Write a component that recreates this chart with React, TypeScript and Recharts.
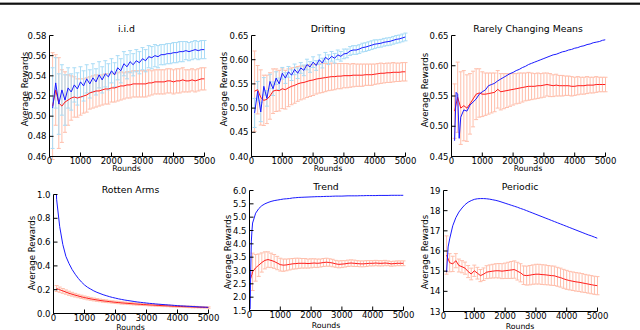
import React from 'react';
import { LineChart, Line, XAxis, YAxis, ErrorBar } from 'recharts';

const ROUNDS = [100, 200, 300, 400, 500, 600, 700, 800, 900, 1000,
  1100, 1200, 1300, 1400, 1500, 1600, 1700, 1800, 1900, 2000,
  2100, 2200, 2300, 2400, 2500, 2600, 2700, 2800, 2900, 3000,
  3100, 3200, 3300, 3400, 3500, 3600, 3700, 3800, 3900, 4000,
  4100, 4200, 4300, 4400, 4500, 4600, 4700, 4800, 4900, 5000];
const X_TICKS = [0, 1000, 2000, 3000, 4000, 5000];

// i.i.d
const IID_BLUE = [0.508, 0.533, 0.512, 0.526, 0.516, 0.528, 0.524, 0.531, 0.527, 0.534,
  0.530, 0.537, 0.532, 0.538, 0.534, 0.541, 0.536, 0.542, 0.539, 0.545,
  0.541, 0.548, 0.545, 0.552, 0.549, 0.554, 0.551, 0.555, 0.553, 0.557,
  0.555, 0.559, 0.558, 0.560, 0.559, 0.561, 0.561, 0.562, 0.562, 0.563,
  0.563, 0.564, 0.564, 0.565, 0.564, 0.565, 0.566, 0.565, 0.566, 0.566];
const IID_RED = [0.510, 0.526, 0.513, 0.510, 0.514, 0.516, 0.518, 0.519, 0.518, 0.519,
  0.520, 0.521, 0.523, 0.524, 0.525, 0.525, 0.526, 0.527, 0.527, 0.528,
  0.528, 0.529, 0.530, 0.530, 0.531, 0.531, 0.532, 0.532, 0.532, 0.532,
  0.532, 0.533, 0.533, 0.534, 0.534, 0.534, 0.534, 0.535, 0.535, 0.534,
  0.535, 0.535, 0.536, 0.535, 0.535, 0.536, 0.535, 0.536, 0.537, 0.537];
const IID_BLUE_ERR = [0.040, 0.025, 0.030, 0.025, 0.025, 0.020, 0.018, 0.017, 0.016, 0.015,
  0.015, 0.014, 0.014, 0.014, 0.013, 0.013, 0.013, 0.013, 0.013, 0.012,
  0.012, 0.012, 0.012, 0.012, 0.012, 0.011, 0.011, 0.011, 0.011, 0.011,
  0.011, 0.011, 0.011, 0.011, 0.011, 0.010, 0.010, 0.010, 0.010, 0.010,
  0.010, 0.010, 0.010, 0.009, 0.009, 0.009, 0.009, 0.009, 0.009, 0.009];
const IID_RED_ERR = [0.053, 0.035, 0.045, 0.036, 0.030, 0.025, 0.022, 0.020, 0.019, 0.018,
  0.017, 0.017, 0.016, 0.016, 0.016, 0.015, 0.015, 0.015, 0.015, 0.014,
  0.014, 0.014, 0.014, 0.013, 0.013, 0.013, 0.013, 0.013, 0.013, 0.013,
  0.013, 0.013, 0.012, 0.012, 0.012, 0.012, 0.012, 0.012, 0.012, 0.012,
  0.012, 0.012, 0.012, 0.011, 0.011, 0.011, 0.011, 0.011, 0.011, 0.011];
const IID_Y_TICKS = [0.46, 0.48, 0.5, 0.52, 0.54, 0.56, 0.58];

// Drifting
const DRIFT_BLUE = [0.490, 0.535, 0.492, 0.545, 0.520, 0.555, 0.540, 0.562, 0.550, 0.572,
  0.562, 0.575, 0.568, 0.580, 0.572, 0.583, 0.578, 0.590, 0.585, 0.595,
  0.588, 0.600, 0.593, 0.605, 0.600, 0.607, 0.603, 0.610, 0.607, 0.612,
  0.613, 0.618, 0.620, 0.620, 0.622, 0.625, 0.626, 0.628, 0.630, 0.632,
  0.633, 0.634, 0.636, 0.637, 0.638, 0.640, 0.642, 0.643, 0.645, 0.647];
const DRIFT_RED = [0.535, 0.538, 0.522, 0.516, 0.518, 0.525, 0.535, 0.537, 0.536, 0.540,
  0.538, 0.542, 0.545, 0.547, 0.550, 0.552, 0.553, 0.555, 0.557, 0.558,
  0.560, 0.561, 0.562, 0.563, 0.564, 0.565, 0.565, 0.566, 0.566, 0.567,
  0.567, 0.567, 0.568, 0.568, 0.568, 0.568, 0.569, 0.569, 0.569, 0.570,
  0.571, 0.572, 0.572, 0.573, 0.573, 0.574, 0.574, 0.574, 0.575, 0.575];
const DRIFT_BLUE_ERR = [0.030, 0.020, 0.020, 0.018, 0.016, 0.015, 0.014, 0.013, 0.012, 0.012,
  0.011, 0.011, 0.011, 0.011, 0.011, 0.011, 0.011, 0.011, 0.011, 0.011,
  0.010, 0.010, 0.010, 0.010, 0.010, 0.010, 0.010, 0.010, 0.010, 0.010,
  0.009, 0.009, 0.009, 0.009, 0.009, 0.009, 0.009, 0.009, 0.009, 0.009,
  0.008, 0.008, 0.008, 0.008, 0.008, 0.008, 0.008, 0.008, 0.008, 0.008];
const DRIFT_RED_ERR = [0.083, 0.050, 0.057, 0.052, 0.050, 0.048, 0.046, 0.044, 0.042, 0.041,
  0.040, 0.039, 0.038, 0.037, 0.036, 0.035, 0.034, 0.033, 0.033, 0.032,
  0.031, 0.030, 0.030, 0.029, 0.028, 0.028, 0.027, 0.026, 0.026, 0.025,
  0.025, 0.024, 0.024, 0.023, 0.023, 0.023, 0.022, 0.022, 0.022, 0.021,
  0.021, 0.021, 0.020, 0.020, 0.020, 0.020, 0.019, 0.019, 0.019, 0.019];
const DRIFT_Y_TICKS = [0.4, 0.45, 0.5, 0.55, 0.6, 0.65];

// Rarely Changing Means
const RARE_BLUE = [0.476, 0.553, 0.515, 0.527, 0.525, 0.535, 0.540, 0.545, 0.553, 0.557,
  0.560, 0.567, 0.569, 0.571, 0.575, 0.578, 0.581, 0.584, 0.587, 0.589,
  0.592, 0.594, 0.597, 0.599, 0.602, 0.604, 0.606, 0.608, 0.610, 0.612,
  0.614, 0.616, 0.618, 0.619, 0.621, 0.623, 0.624, 0.626, 0.627, 0.629,
  0.630, 0.632, 0.633, 0.635, 0.636, 0.638, 0.639, 0.640, 0.642, 0.643];
const RARE_EXTRA_X = [150, 250];
const RARE_EXTRA_BLUE = [0.556, 0.480];
const RARE_RED = [0.525, 0.548, 0.530, 0.534, 0.530, 0.537, 0.545, 0.553, 0.555, 0.553,
  0.553, 0.554, 0.555, 0.556, 0.561, 0.557, 0.558, 0.559, 0.560, 0.561,
  0.562, 0.563, 0.564, 0.565, 0.566, 0.566, 0.566, 0.567, 0.567, 0.568,
  0.569, 0.568, 0.567, 0.568, 0.567, 0.567, 0.567, 0.567, 0.566, 0.566,
  0.567, 0.567, 0.567, 0.568, 0.568, 0.568, 0.569, 0.569, 0.569, 0.569];
const RARE_RED_ERR = [0.045, 0.058, 0.060, 0.058, 0.055, 0.050, 0.046, 0.042, 0.040, 0.037,
  0.035, 0.034, 0.033, 0.032, 0.031, 0.030, 0.029, 0.028, 0.027, 0.026,
  0.025, 0.025, 0.024, 0.023, 0.023, 0.022, 0.021, 0.021, 0.020, 0.020,
  0.019, 0.019, 0.018, 0.018, 0.017, 0.017, 0.016, 0.016, 0.016, 0.015,
  0.015, 0.014, 0.014, 0.014, 0.013, 0.013, 0.013, 0.012, 0.012, 0.012];
const RARE_Y_TICKS = [0.45, 0.5, 0.55, 0.6, 0.65];

// Rotten Arms
const ROT_BLUE = [0.960, 0.730, 0.580, 0.480, 0.420, 0.370, 0.330, 0.295, 0.265, 0.240,
  0.220, 0.205, 0.190, 0.178, 0.168, 0.158, 0.150, 0.142, 0.135, 0.129,
  0.123, 0.118, 0.113, 0.109, 0.105, 0.101, 0.097, 0.094, 0.091, 0.088,
  0.085, 0.083, 0.080, 0.078, 0.076, 0.074, 0.072, 0.070, 0.068, 0.066,
  0.064, 0.063, 0.061, 0.060, 0.058, 0.057, 0.055, 0.054, 0.053, 0.052];
const ROT_EXTRA_X = [80];
const ROT_EXTRA_BLUE = [1.15];
const ROT_RED = [0.210, 0.200, 0.190, 0.180, 0.170, 0.162, 0.154, 0.147, 0.140, 0.134,
  0.128, 0.123, 0.118, 0.114, 0.110, 0.106, 0.103, 0.100, 0.097, 0.094,
  0.092, 0.089, 0.087, 0.085, 0.083, 0.081, 0.079, 0.077, 0.075, 0.074,
  0.072, 0.071, 0.069, 0.068, 0.066, 0.065, 0.064, 0.062, 0.061, 0.060,
  0.059, 0.058, 0.057, 0.056, 0.055, 0.054, 0.053, 0.052, 0.051, 0.050];
const ROT_RED_ERR = [0.025, 0.022, 0.020, 0.018, 0.017, 0.016, 0.015, 0.014, 0.014, 0.013,
  0.013, 0.012, 0.012, 0.012, 0.011, 0.011, 0.011, 0.010, 0.010, 0.010,
  0.010, 0.010, 0.009, 0.009, 0.009, 0.009, 0.009, 0.008, 0.008, 0.008,
  0.008, 0.008, 0.008, 0.008, 0.008, 0.007, 0.007, 0.007, 0.007, 0.007,
  0.007, 0.007, 0.007, 0.007, 0.007, 0.006, 0.006, 0.006, 0.006, 0.006];
const ROT_Y_TICKS = [0, 0.2, 0.4, 0.6, 0.8, 1.0];

// Trend
const TREND_BLUE = [4.78, 5.15, 5.32, 5.43, 5.50, 5.55, 5.59, 5.62, 5.64, 5.66,
  5.68, 5.69, 5.70, 5.72, 5.73, 5.74, 5.745, 5.75, 5.755, 5.76,
  5.765, 5.77, 5.77, 5.775, 5.78, 5.78, 5.785, 5.79, 5.79, 5.79,
  5.795, 5.80, 5.80, 5.80, 5.80, 5.805, 5.805, 5.81, 5.81, 5.81,
  5.81, 5.815, 5.815, 5.815, 5.815, 5.82, 5.82, 5.82, 5.82, 5.82];
const TREND_EXTRA_X = [20, 40, 60, 80];
const TREND_EXTRA_BLUE = [1.55, 3.0, 4.1, 4.5];
const TREND_EXTRA_RED = [null, 2.7, 2.8, 2.85];
const TREND_RED = [2.95, 3.10, 3.20, 3.30, 3.38, 3.41, 3.38, 3.34, 3.28, 3.22,
  3.20, 3.21, 3.23, 3.25, 3.26, 3.27, 3.27, 3.27, 3.26, 3.27,
  3.28, 3.27, 3.28, 3.30, 3.31, 3.30, 3.28, 3.25, 3.23, 3.24,
  3.25, 3.27, 3.28, 3.27, 3.26, 3.25, 3.25, 3.26, 3.27, 3.27,
  3.28, 3.27, 3.27, 3.28, 3.27, 3.25, 3.26, 3.27, 3.27, 3.27];
const TREND_RED_ERR = [0.70, 0.50, 0.42, 0.36, 0.32, 0.29, 0.27, 0.26, 0.25, 0.24,
  0.23, 0.22, 0.21, 0.20, 0.20, 0.19, 0.18, 0.18, 0.17, 0.17,
  0.16, 0.16, 0.15, 0.15, 0.15, 0.14, 0.14, 0.13, 0.13, 0.13,
  0.12, 0.12, 0.12, 0.12, 0.11, 0.11, 0.11, 0.11, 0.10, 0.10,
  0.10, 0.10, 0.10, 0.10, 0.09, 0.09, 0.09, 0.09, 0.09, 0.09];
const TREND_Y_TICKS = [1.5, 2.0, 2.5, 3.0, 3.5, 4.0, 4.5, 5.0, 5.5, 6.0];

// Periodic
const PER_BLUE = [14.95, 16.60, 17.25, 17.65, 17.93, 18.13, 18.30, 18.42, 18.50, 18.56,
  18.59, 18.60, 18.60, 18.59, 18.57, 18.54, 18.51, 18.47, 18.42, 18.37,
  18.32, 18.27, 18.22, 18.17, 18.11, 18.06, 18.00, 17.94, 17.88, 17.82,
  17.76, 17.70, 17.64, 17.58, 17.52, 17.46, 17.40, 17.34, 17.28, 17.22,
  17.16, 17.10, 17.04, 16.98, 16.92, 16.86, 16.80, 16.75, 16.69, 16.63];
const PER_EXTRA_X = [150];
const PER_EXTRA_BLUE = [16.2];
const PER_RED = [15.80, 15.42, 15.36, 15.52, 15.28, 15.22, 15.15, 14.98, 14.86, 15.02,
  14.90, 14.78, 14.85, 14.95, 14.98, 15.00, 15.02, 15.02, 15.00, 15.02,
  15.04, 15.06, 15.08, 15.00, 14.92, 14.80, 14.78, 14.80, 14.83, 14.85,
  14.85, 14.83, 14.82, 14.80, 14.78, 14.77, 14.72, 14.68, 14.62, 14.57,
  14.53, 14.50, 14.47, 14.45, 14.42, 14.39, 14.36, 14.33, 14.30, 14.28];
const PER_RED_ERR = [0.95, 0.45, 0.38, 0.35, 0.32, 0.30, 0.30, 0.30, 0.29, 0.28,
  0.29, 0.30, 0.31, 0.32, 0.33, 0.34, 0.35, 0.36, 0.37, 0.38,
  0.40, 0.42, 0.43, 0.44, 0.45, 0.46, 0.47, 0.48, 0.48, 0.49,
  0.49, 0.49, 0.49, 0.48, 0.48, 0.48, 0.47, 0.47, 0.47, 0.47,
  0.46, 0.46, 0.46, 0.46, 0.46, 0.45, 0.45, 0.45, 0.45, 0.45];
const PER_Y_TICKS = [13, 14, 15, 16, 17, 18, 19];

type Row = {
  x: number;
  blue: number | null;
  red: number | null;
  blueBar: number | null;
  redBar: number | null;
  blueErr: number | null;
  redErr: number | null;
};

function buildRows(
  blue: number[], red: number[],
  blueErr: number[] | null, redErr: number[] | null,
  extraX: number[] = [], extraBlue: (number | null)[] = [], extraRed: (number | null)[] = []
): Row[] {
  const rows: Row[] = ROUNDS.map((x, i) => ({
    x,
    blue: blue[i],
    red: red[i],
    blueBar: blueErr ? blue[i] : null,
    redBar: redErr ? red[i] : null,
    blueErr: blueErr ? blueErr[i] : null,
    redErr: redErr ? redErr[i] : null,
  }));
  extraX.forEach((x, i) => {
    rows.push({
      x,
      blue: extraBlue[i] ?? null,
      red: extraRed[i] ?? null,
      blueBar: null,
      redBar: null,
      blueErr: null,
      redErr: null,
    });
  });
  rows.sort((a, b) => a.x - b.x);
  return rows;
}

const FONT = "'DejaVu Sans', 'Liberation Sans', sans-serif";
const BLUE = '#1a1aff';
const RED = '#ff1a1a';
const BLUE_ERR = '#a9dcf6';
const RED_ERR = '#ffbfac';
const YW = 45;
const MT = 5;
const XH = 25;
const MR = 18;

type Box = { x: number; y: number; w: number; h: number };

type PanelProps = {
  box: Box;
  rows: Row[];
  yDomain: [number, number];
  yTicks: number[];
  digits: number;
};

function Panel({ box, rows, yDomain, yTicks, digits }: PanelProps) {
  const w = box.w + YW + MR;
  const h = box.h + MT + 0.5 + XH;
  const tickStyle = { fontSize: 8.5, fill: '#000', fontFamily: FONT };
  return (
    <div style={{ position: 'absolute', left: box.x - YW, top: box.y - MT }}>
      <LineChart width={w} height={h} data={rows}
        margin={{ top: MT + 0.5, right: MR - 0.5, bottom: 0, left: 0.5 }}>
        <XAxis dataKey="x" type="number" domain={[0, 5000]} ticks={X_TICKS} interval={0}
          allowDataOverflow height={XH} tickSize={-4} tickMargin={5}
          stroke="#000" tick={tickStyle} />
        <XAxis xAxisId="top" orientation="top" dataKey="x" type="number" domain={[0, 5000]}
          ticks={X_TICKS} interval={0} allowDataOverflow height={0} tickSize={-4}
          stroke="#000" tick={false} />
        <YAxis type="number" domain={yDomain} ticks={yTicks} interval={0} allowDataOverflow
          width={YW} tickSize={-4} tickMargin={7} stroke="#000" tick={tickStyle}
          tickFormatter={(v: number) => v.toFixed(digits)} />
        <YAxis yAxisId="right" orientation="right" type="number" domain={yDomain} ticks={yTicks}
          interval={0} allowDataOverflow width={0} tickSize={-4} stroke="#000" tick={false} />
        <Line dataKey="redBar" stroke="none" dot={false} activeDot={false} isAnimationActive={false}>
          <ErrorBar dataKey="redErr" width={2} stroke={RED_ERR} strokeWidth={1} direction="y" />
        </Line>
        <Line dataKey="blueBar" stroke="none" dot={false} activeDot={false} isAnimationActive={false}>
          <ErrorBar dataKey="blueErr" width={2} stroke={BLUE_ERR} strokeWidth={1} direction="y" />
        </Line>
        <Line dataKey="red" stroke={RED} strokeWidth={1} dot={false} activeDot={false}
          connectNulls isAnimationActive={false} />
        <Line dataKey="blue" stroke={BLUE} strokeWidth={1} dot={false} activeDot={false}
          connectNulls isAnimationActive={false} />
      </LineChart>
    </div>
  );
}

type PanelDef = {
  title: string;
  box: Box;
  titleY: number;
  roundsY: number;
  yLabelX: number;
  yLabelY: number;
  rows: Row[];
  yDomain: [number, number];
  yTicks: number[];
  digits: number;
};

const PANELS: PanelDef[] = [
  {
    title: 'i.i.d', box: { x: 49, y: 35, w: 155, h: 121 }, titleY: 32, roundsY: 171, yLabelX: 27.5, yLabelY: 89,
    rows: buildRows(IID_BLUE, IID_RED, IID_BLUE_ERR, IID_RED_ERR),
    yDomain: [0.46, 0.58], yTicks: IID_Y_TICKS, digits: 2,
  },
  {
    title: 'Drifting', box: { x: 251, y: 35, w: 154, h: 121 }, titleY: 32, roundsY: 171, yLabelX: 227, yLabelY: 89,
    rows: buildRows(DRIFT_BLUE, DRIFT_RED, DRIFT_BLUE_ERR, DRIFT_RED_ERR),
    yDomain: [0.4, 0.65], yTicks: DRIFT_Y_TICKS, digits: 2,
  },
  {
    title: 'Rarely Changing Means', box: { x: 451, y: 35, w: 154, h: 121 }, titleY: 32, roundsY: 171, yLabelX: 427.5, yLabelY: 90,
    rows: buildRows(RARE_BLUE, RARE_RED, null, RARE_RED_ERR, RARE_EXTRA_X, RARE_EXTRA_BLUE, []),
    yDomain: [0.45, 0.65], yTicks: RARE_Y_TICKS, digits: 2,
  },
  {
    title: 'Rotten Arms', box: { x: 53, y: 194, w: 155, h: 119 }, titleY: 192.5, roundsY: 329.5, yLabelX: 34.5, yLabelY: 253,
    rows: buildRows(ROT_BLUE, ROT_RED, null, ROT_RED_ERR, ROT_EXTRA_X, ROT_EXTRA_BLUE, []),
    yDomain: [0, 1], yTicks: ROT_Y_TICKS, digits: 1,
  },
  {
    title: 'Trend', box: { x: 249, y: 190, w: 154, h: 120 }, titleY: 190, roundsY: 328, yLabelX: 231, yLabelY: 252,
    rows: buildRows(TREND_BLUE, TREND_RED, null, TREND_RED_ERR, TREND_EXTRA_X, TREND_EXTRA_BLUE, TREND_EXTRA_RED),
    yDomain: [1.5, 6], yTicks: TREND_Y_TICKS, digits: 1,
  },
  {
    title: 'Periodic', box: { x: 443, y: 190, w: 154, h: 121 }, titleY: 190, roundsY: 328.5, yLabelX: 427.5, yLabelY: 252,
    rows: buildRows(PER_BLUE, PER_RED, null, PER_RED_ERR, PER_EXTRA_X, PER_EXTRA_BLUE, []),
    yDomain: [13, 19], yTicks: PER_Y_TICKS, digits: 0,
  },
];

export default function App() {
  return (
    <div style={{ position: 'absolute', left: 0, top: 0, width: 640, height: 330, background: '#fff', overflow: 'hidden' }}>
      {PANELS.map((p) => (
        <Panel key={p.title} box={p.box} rows={p.rows} yDomain={p.yDomain} yTicks={p.yTicks} digits={p.digits} />
      ))}
      <svg width={640} height={330} style={{ position: 'absolute', left: 0, top: 0, pointerEvents: 'none' }}>
        <rect x={0} y={2.6} width={640} height={2.2} fill="#111" />
        {PANELS.map((p) => {
          const cx = p.box.x + p.box.w / 2;
          return (
            <g key={p.title} fontFamily={FONT} fill="#000">
              <text x={cx} y={p.titleY} fontSize={9.3} textAnchor="middle">{p.title}</text>
              <text x={cx} y={p.roundsY} fontSize={7.8} textAnchor="middle">Rounds</text>
              <text transform={`translate(${p.yLabelX},${p.yLabelY}) rotate(-90)`} fontSize={8.6} textAnchor="middle">Average Rewards</text>
            </g>
          );
        })}
      </svg>
    </div>
  );
}
